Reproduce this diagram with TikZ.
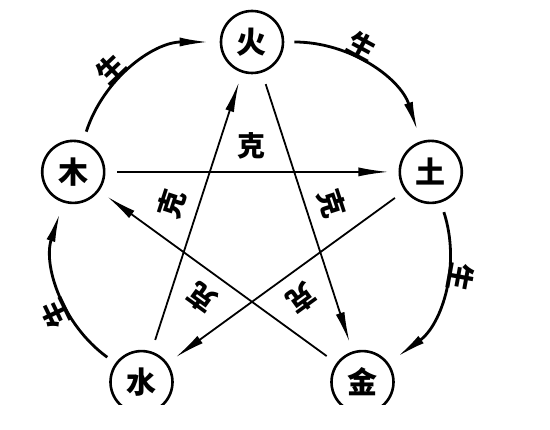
\documentclass[tikz,border=0pt]{standalone}
\usepackage{fontspec}
\newfontfamily\cjk{Noto Sans CJK SC}
\usetikzlibrary{arrows.meta}

\begin{document}
\begin{tikzpicture}[x=1pt, y=1pt,
    elem/.style={circle, draw, line width=2.6pt, minimum size=62pt, inner sep=0pt, font=\cjk\bfseries\fontsize{30}{30}\selectfont},
    sheng/.style={line width=2.8pt, bend left=36, shorten <=10pt, shorten >=10pt, -{Latex[length=30pt,width=9pt]}},
    ke/.style={line width=1.8pt, shorten <=12pt, shorten >=10pt, -{Latex[length=30pt,width=9pt]}},
    lab/.style={sloped, allow upside down, inner sep=0pt, font=\cjk\bfseries\fontsize{28}{28}\selectfont}]
    \useasboundingbox (-252,-200) rectangle (298,230);
    \clip (-252,-175) rectangle (298,230);

    % Elementos
    \node[elem] (huo) at (90:188) {火};
    \node[elem] (tu) at (18:188) {土};
    \node[elem] (jin) at (-54:188) {金};
    \node[elem] (shui) at (234:188) {水};
    \node[elem] (mu) at (162:188) {木};

    % Ciclo de generación
    \draw[sheng] (mu) to node[lab, pos=0.4, above=0pt] {生} (huo);
    \draw[sheng] (huo) to node[lab, pos=0.4, above=0pt] {生} (tu);
    \draw[sheng] (tu) to node[lab, pos=0.4, above=0pt] {生} (jin);
    \draw[sheng] (jin) to (shui);
    \draw[sheng] (shui) to node[lab, pos=0.4, above=0pt] {生} (mu);

    % Ciclo de control
    \draw[ke] (mu) -- node[lab, midway, above=12pt] {克} (tu);
    \draw[ke] (tu) -- node[lab, midway, above=12pt] {克} (shui);
    \draw[ke] (shui) -- node[lab, midway, above=12pt] {克} (huo);
    \draw[ke] (huo) -- node[lab, midway, above=12pt] {克} (jin);
    \draw[ke] (jin) -- node[lab, midway, above=12pt] {克} (mu);
\end{tikzpicture}
\end{document}
